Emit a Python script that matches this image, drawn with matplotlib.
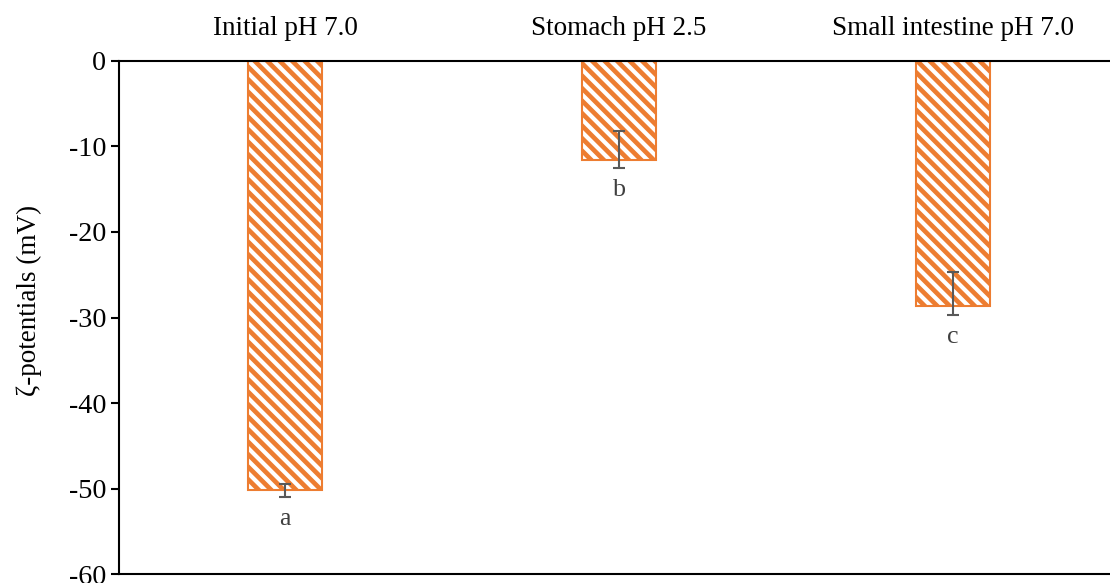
import matplotlib.pyplot as plt

plt.rcParams["font.family"] = ["Liberation Serif", "DejaVu Serif"]
plt.rcParams["hatch.linewidth"] = 2.0
plt.rcParams["hatch.color"] = "white"
plt.rcParams["axes.unicode_minus"] = False

stages = ["Initial pH 7.0", "Stomach pH 2.5", "Small intestine pH 7.0"]
zeta = [-50.2, -11.6, -28.7]
err_low = [0.8, 0.9, 1.0]
err_high = [0.7, 3.4, 4.0]
letters = ["a", "b", "c"]

ORANGE = "#ED7D31"

fig = plt.figure(figsize=(7.4, 583 / 150), dpi=150)
ax = fig.add_axes([0.1072, 0.0154, 0.8928, 0.88])

x = list(range(len(stages)))
ax.bar(x, zeta, width=0.22, color=ORANGE, edgecolor="white", hatch="\\\\\\\\", linewidth=0)
ax.bar(x, zeta, width=0.22, fill=False, edgecolor=ORANGE, linewidth=1.0)
ax.errorbar(x, zeta, yerr=[err_low, err_high], fmt="none", ecolor="#595959",
            elinewidth=1.0, capsize=3, capthick=1.0)

for xi, v, lo, t in zip(x, zeta, err_low, letters):
    ax.text(xi, v - lo - 1.3, t, ha="center", va="top", fontsize=12.5, color="#404040")

ax.set_xlim(-0.497, 2.47)
ax.set_ylim(-60, 0)
ax.set_yticks(range(-60, 1, 10))
ax.xaxis.tick_top()
ax.set_xticks(x)
ax.set_xticklabels(stages)
ax.tick_params(axis="x", length=0, pad=9.5, labelsize=13)
ax.tick_params(axis="y", direction="out", length=4, width=1.0, labelsize=13.5, pad=2)
ax.set_ylabel("ζ-potentials (mV)", fontsize=13)
ax.yaxis.set_label_coords(-0.078, 0.534)

for s in ["top", "left", "bottom"]:
    ax.spines[s].set_linewidth(1.0)
ax.spines["right"].set_visible(False)

fig.savefig("out.png", dpi=150)
